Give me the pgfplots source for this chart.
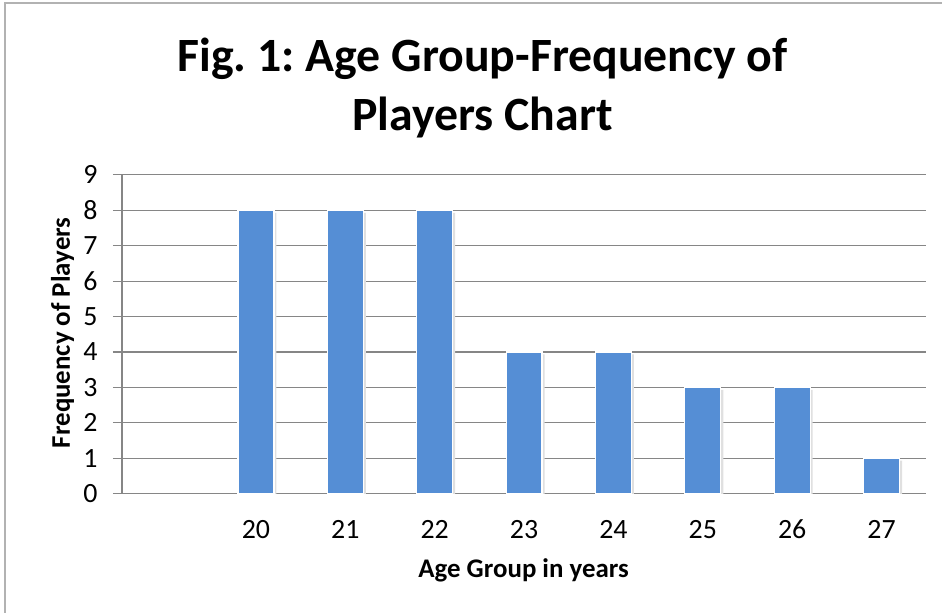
\documentclass[border=0pt]{standalone}
\usepackage{pgfplots}
\pgfplotsset{compat=1.18}
\usepackage{fontspec}
\setmainfont{Carlito}
\definecolor{barblue}{RGB}{85,142,213}
\definecolor{gridgray}{RGB}{134,134,134}
\newcommand\tickfont{\fontsize{28}{32}\selectfont}
\begin{document}
\frenchspacing
\begin{tikzpicture}[x=1bp,y=1bp]
\path[fill=white] (0,0) rectangle (943,613);
\draw[gray!60, line width=1.5bp] (5,0) -- (5,610) -- (943,610);
\node[anchor=base, font=\bfseries\fontsize{48}{52}\selectfont] at (483,541) {Fig. 1: Age Group-Frequency of};
\node[anchor=base, font=\bfseries\fontsize{48}{52}\selectfont] at (483,482) {Players Chart};
\node[anchor=base, font=\bfseries\fontsize{27}{30}\selectfont] at (524,35) {Age Group in years};
\node[anchor=base, rotate=90, font=\bfseries\fontsize{27}{30}\selectfont] at (70,280) {Frequency of Players};
\begin{axis}[
  at={(122bp,119bp)}, anchor=south west,
  width=805bp, height=319bp, scale only axis,
  xmin=-0.5, xmax=8.5, ymin=0, ymax=9,
  ytick={0,1,2,3,4,5,6,7,8,9},
  yticklabels={0,1,2,3,4,5,6,7,8,9},
  xtick={1,2,3,4,5,6,7,8},
  xticklabels={20,21,22,23,24,25,26,27},
  axis x line*=bottom, axis y line*=left,
  axis line style={gridgray, line width=1.2bp},
  ymajorgrids, grid style={gridgray, line width=1.2bp},
  xtick style={draw=none},
  ytick style={gridgray, line width=1.2bp},
  major tick length=9bp, tick align=outside,
  every tick label/.append style={font=\tickfont, text=black},
  xticklabel style={anchor=base, yshift=-36bp},
  yticklabel style={xshift=-12bp},
  ybar, bar width=36bp,
]
\addplot[fill=black!12, draw=none, bar shift=2.5bp, yshift=-2.5bp] coordinates {
(1,8) (2,8) (3,8) (4,4) (5,4) (6,3) (7,3) (8,1)};
\addplot[fill=barblue, draw=white, line width=1.2bp, bar shift=0bp] coordinates {
(1,8) (2,8) (3,8) (4,4) (5,4) (6,3) (7,3) (8,1)};
\end{axis}
\end{tikzpicture}
\end{document}
